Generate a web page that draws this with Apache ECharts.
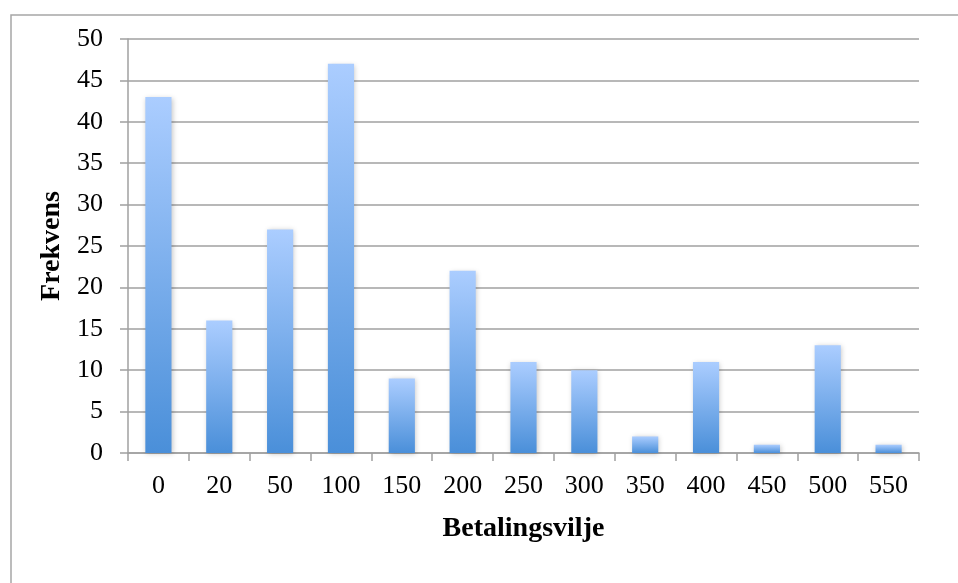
<!DOCTYPE html>
<html>
<head>
<meta charset="utf-8">
<script src="https://cdn.jsdelivr.net/npm/echarts@6/dist/echarts.min.js"></script>
<style>
  html, body { margin: 0; padding: 0; background: #fff; }
  #chart { width: 958px; height: 583px; }
</style>
</head>
<body>
<div id="chart"></div>
<script>
// Willingness-to-pay amounts and how many respondents gave each one
const categories = ['0', '20', '50', '100', '150', '200', '250', '300', '350', '400', '450', '500', '550'];
const frequencies = [43, 16, 27, 47, 9, 22, 11, 10, 2, 11, 1, 13, 1];
const yTicks = { min: 0, max: 50, interval: 5 };

const serif = '"Liberation Serif", "DejaVu Serif", serif';
const gridGray = '#a0a0a0';

const chart = echarts.init(document.getElementById('chart'), null, { renderer: 'canvas' });

chart.setOption({
  animation: false,
  backgroundColor: '#ffffff',
  graphic: [{
    type: 'rect',
    shape: { x: 11, y: 15, width: 1200, height: 1000 },
    style: { fill: 'none', stroke: '#a6a6a6', lineWidth: 1.5 },
    silent: true
  }],
  grid: { left: 128, top: 39, right: 39, bottom: 130 },
  xAxis: {
    type: 'category',
    data: categories,
    name: 'Betalingsvilje',
    nameLocation: 'middle',
    nameGap: 62,
    nameTextStyle: { fontFamily: serif, fontWeight: 'bold', fontSize: 28, color: '#000' },
    axisLine: { lineStyle: { color: gridGray, width: 1.5 } },
    axisTick: { show: true, length: 8, lineStyle: { color: gridGray, width: 1.5 } },
    axisLabel: { fontFamily: serif, fontSize: 26, color: '#000', margin: 20 }
  },
  yAxis: {
    type: 'value',
    min: yTicks.min,
    max: yTicks.max,
    interval: yTicks.interval,
    name: 'Frekvens',
    nameLocation: 'middle',
    nameGap: 62,
    nameRotate: 90,
    nameTextStyle: { fontFamily: serif, fontWeight: 'bold', fontSize: 28, color: '#000' },
    axisLine: { show: true, lineStyle: { color: gridGray, width: 1.5 } },
    axisTick: { show: true, length: 8, lineStyle: { color: gridGray, width: 1.5 } },
    axisLabel: { fontFamily: serif, fontSize: 26, color: '#000', margin: 25 },
    splitLine: { lineStyle: { color: gridGray, width: 1.5 } }
  },
  series: [{
    type: 'bar',
    data: frequencies,
    barCategoryGap: '57%',
    itemStyle: {
      color: new echarts.graphic.LinearGradient(0, 0, 0, 1, [
        { offset: 0, color: '#abcdff' },
        { offset: 1, color: '#4a8fd9' }
      ]),
      shadowColor: 'rgba(0,0,0,0.22)',
      shadowBlur: 5,
      shadowOffsetX: 1,
      shadowOffsetY: 1
    }
  }]
});
</script>
</body>
</html>
